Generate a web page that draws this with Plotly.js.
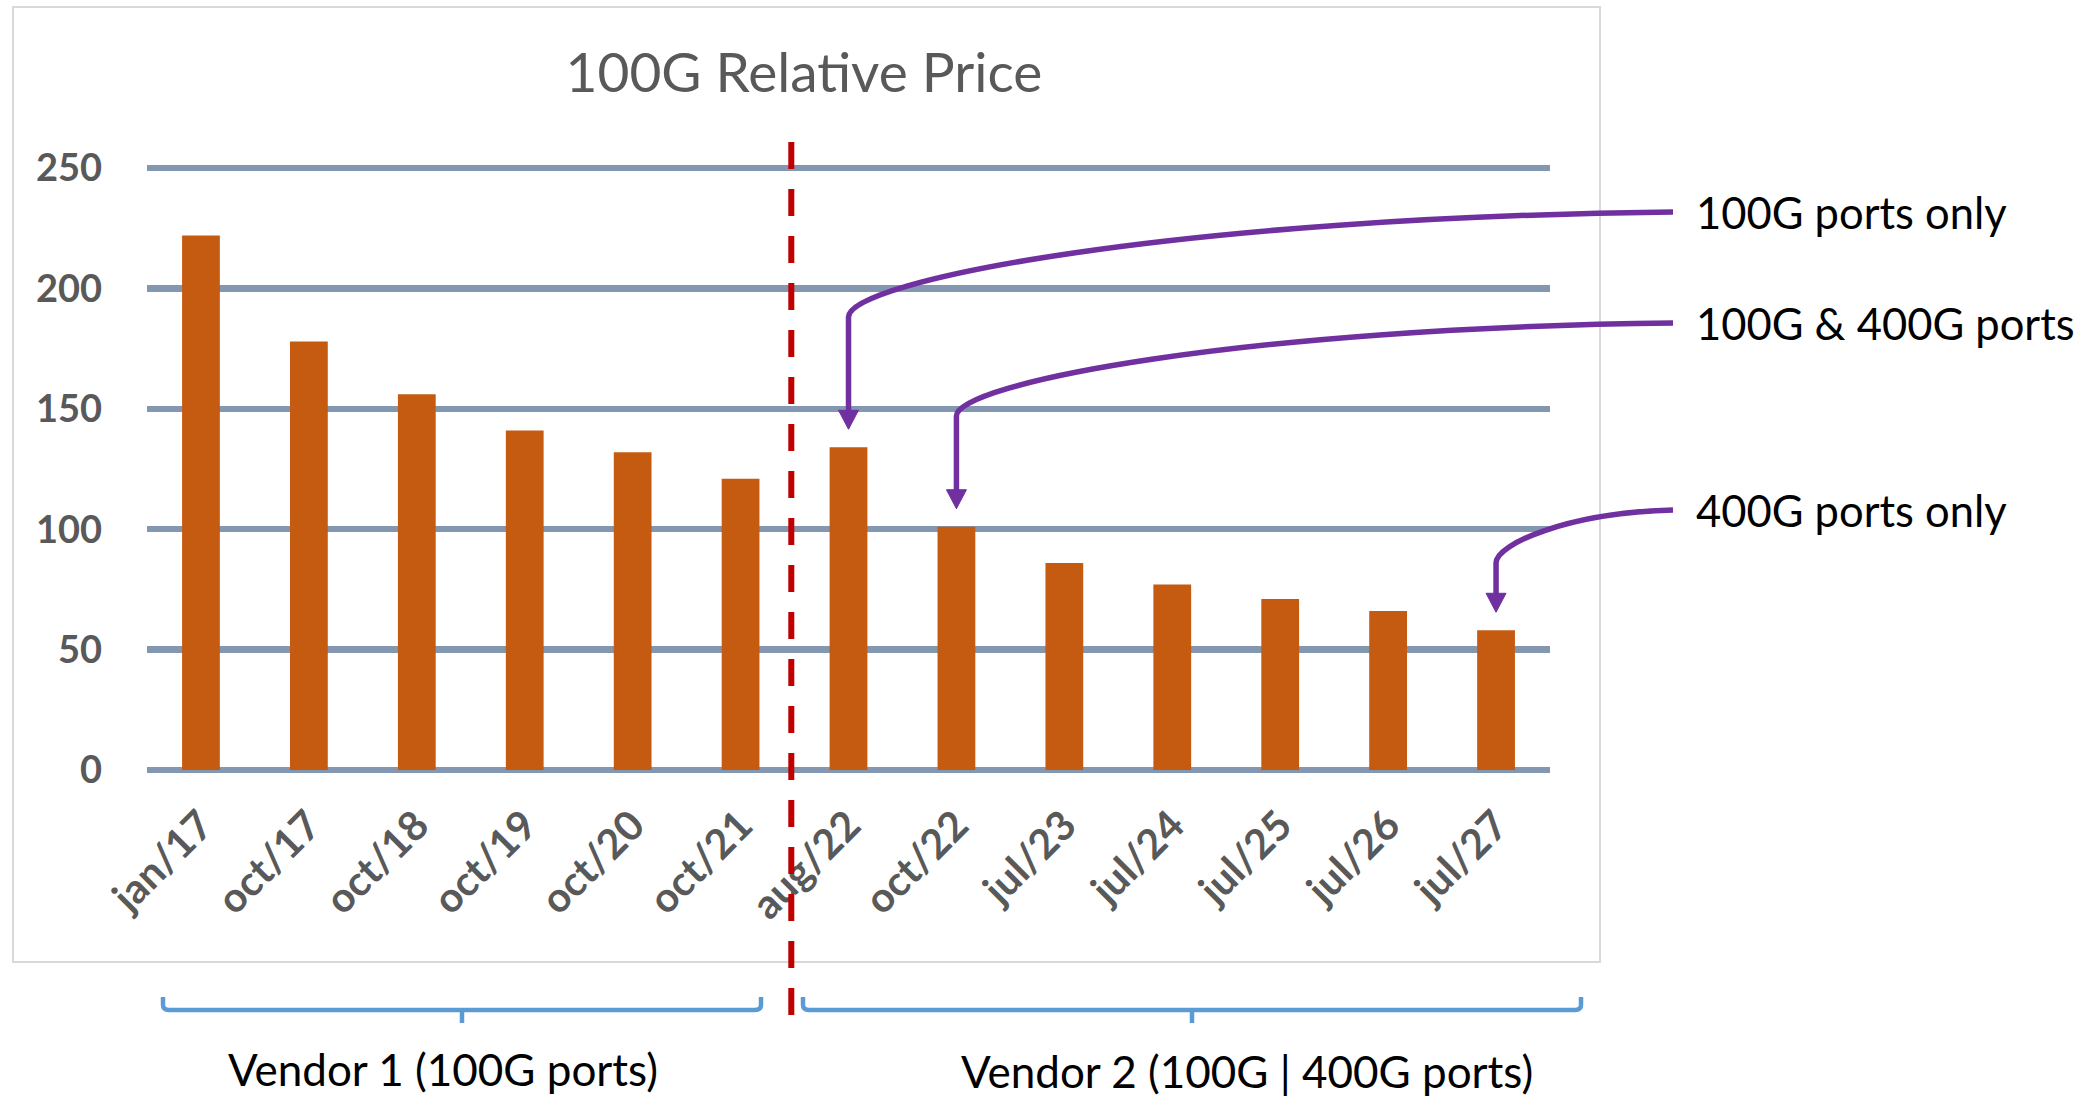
<!DOCTYPE html>
<html><head><meta charset="utf-8">
<script src="https://cdn.plot.ly/plotly-3.0.1.min.js"></script>
<style>html,body{margin:0;padding:0;background:#fff}</style>
</head><body><div id="chart" style="width:2079px;height:1100px"></div>
<script>
// ---- data ----
const categories = ['jan/17','oct/17','oct/18','oct/19','oct/20','oct/21','aug/22','oct/22','jul/23','jul/24','jul/25','jul/26','jul/27'];
const relativePrice = [222,178,156,141,132,121,134,101,86,77,71,66,58];
const yTicks = [0,50,100,150,200,250];
const chartTitle = '100G Relative Price';
const calloutLabels = ['100G ports only','100G & 400G ports','400G ports only'];
const calloutTargets = ['aug/22','oct/22','jul/27'];
const groupLabels = ['Vendor 1 (100G ports)','Vendor 2 (100G | 400G ports)'];

// ---- layout geometry (pixels) ----
const W = 2079, H = 1100;
const L = 147, R = 1550;
const Y0PIX = 770, YTOPPIX = 168;            // pixel rows of the 0 and 250 gridlines
const YMAX = 250;
const PX_PER_UNIT = (Y0PIX - YTOPPIX) / YMAX;
const PADPX = 6;                              // so edge gridlines are drawn
const T = YTOPPIX - PADPX, B = Y0PIX + PADPX;
const YRANGE = [-PADPX / PX_PER_UNIT, YMAX + PADPX / PX_PER_UNIT];
const PW = R - L, PH = B - T;
const fx = p => (p - L) / PW;
const fy = p => (B - p) / PH;
const catPix = c => L + (categories.indexOf(c) + 0.5) * PW / categories.length;
const valPix = v => Y0PIX - v * PX_PER_UNIT;

const GREY = '#595959', PURPLE = '#7030A0', BLUE = '#5B9BD5';
const FONT = 'Lato, "Open Sans", sans-serif';

const shapes = [];
const annotations = [];

// chart border
shapes.push({type:'rect', xref:'paper', yref:'paper', x0:fx(13), x1:fx(1600), y0:fy(962), y1:fy(7),
  line:{color:'#d9d9d9', width:2}, fillcolor:'rgba(0,0,0,0)', layer:'below'});

// vendor divider (between oct/21 and aug/22)
shapes.push({type:'line', xref:'x', yref:'paper', x0:5.47, x1:5.47, y0:fy(142), y1:fy(1034),
  line:{color:'#C00000', width:6, dash:'27px,20px'}});

// callouts
const labelY = [212, 323, 510];
const kneeY = [317, 416, 563];
const startX = 1673;
calloutTargets.forEach((c, k) => {
  const v = relativePrice[categories.indexOf(c)];
  const kx = catPix(c), tipY = valPix(v + 7.5), sy = labelY[k], ky = kneeY[k];
  const dx = startX - kx, dy = ky - sy;
  const p1x = startX - 0.6 * dx, p1y = sy + 0.05 * dy;
  const p2x = kx, p2y = ky - 0.35 * dy;
  shapes.push({type:'path', xref:'paper', yref:'paper',
    path:`M ${fx(startX)},${fy(sy)} C ${fx(p1x)},${fy(p1y)} ${fx(p2x)},${fy(p2y)} ${fx(kx)},${fy(ky)} L ${fx(kx)},${fy(tipY-14)}`,
    line:{color:PURPLE, width:5.5}, fillcolor:'rgba(0,0,0,0)'});
  shapes.push({type:'path', xref:'paper', yref:'paper',
    path:`M ${fx(kx-10)},${fy(tipY-19)} L ${fx(kx+10)},${fy(tipY-19)} L ${fx(kx)},${fy(tipY)} Z`,
    line:{color:PURPLE, width:1}, fillcolor:PURPLE});
  annotations.push({xref:'paper', yref:'paper', x:fx(1694), y:fy(sy), xanchor:'left', yanchor:'middle',
    text:calloutLabels[k], showarrow:false, font:{family:FONT, size:43.5, color:'#000000'}});
});

// braces
const braces = [[163, 761], [803, 1581]];
const yt = 997, yl = 1010, yb = 1023;
braces.forEach(([x0, x1]) => {
  const xm = (x0 + x1) / 2;
  shapes.push({type:'path', xref:'paper', yref:'paper',
    path:`M ${fx(x0)},${fy(yt)} L ${fx(x0)},${fy(yl-5)} Q ${fx(x0)},${fy(yl)} ${fx(x0+6)},${fy(yl)} L ${fx(x1-6)},${fy(yl)} Q ${fx(x1)},${fy(yl)} ${fx(x1)},${fy(yl-5)} L ${fx(x1)},${fy(yt)} M ${fx(xm)},${fy(yl)} L ${fx(xm)},${fy(yb)}`,
    line:{color:BLUE, width:4.5}, fillcolor:'rgba(0,0,0,0)'});
});
annotations.push({xref:'paper', yref:'paper', x:fx(443), y:fy(1069), xanchor:'center', yanchor:'middle',
  text:groupLabels[0], showarrow:false, font:{family:FONT, size:44, color:'#000000'}});
annotations.push({xref:'paper', yref:'paper', x:fx(1247), y:fy(1099), xanchor:'center', yanchor:'bottom',
  text:groupLabels[1], showarrow:false, font:{family:FONT, size:44, color:'#000000'}});

const data = [{
  type:'bar', x:categories, y:relativePrice,
  marker:{color:'#C55A11', line:{width:0}},
  hoverinfo:'x+y'
}];

const layout = {
  width:W, height:H, autosize:false,
  margin:{l:L, r:W-R, t:T, b:H-B, pad:0},
  paper_bgcolor:'#ffffff', plot_bgcolor:'#ffffff',
  showlegend:false,
  bargap:0.65,
  title:{text:chartTitle, xref:'container', yref:'container', x:804/W, xanchor:'center', y:1-73/H, yanchor:'middle',
    font:{family:FONT, size:55, color:GREY}},
  xaxis:{type:'category', categoryorder:'array', categoryarray:categories, range:[-0.5, categories.length-0.5],
    tickangle:-45, showgrid:false, showline:false, zeroline:false, ticks:'', ticklabelstandoff:16,
    tickfont:{family:FONT, size:41, color:GREY, weight:'bold'}, automargin:false, fixedrange:true},
  yaxis:{range:YRANGE, tickvals:yTicks, ticktext:yTicks.map(String), showgrid:true, gridcolor:'#8497B0', gridwidth:6.5,
    zeroline:false, showline:false, ticks:'', ticklabelstandoff:44,
    tickfont:{family:FONT, size:38, color:GREY, weight:'bold'}, automargin:false, fixedrange:true},
  shapes:shapes,
  annotations:annotations
};

Plotly.newPlot('chart', data, layout, {displayModeBar:false, staticPlot:true});
</script></body></html>
